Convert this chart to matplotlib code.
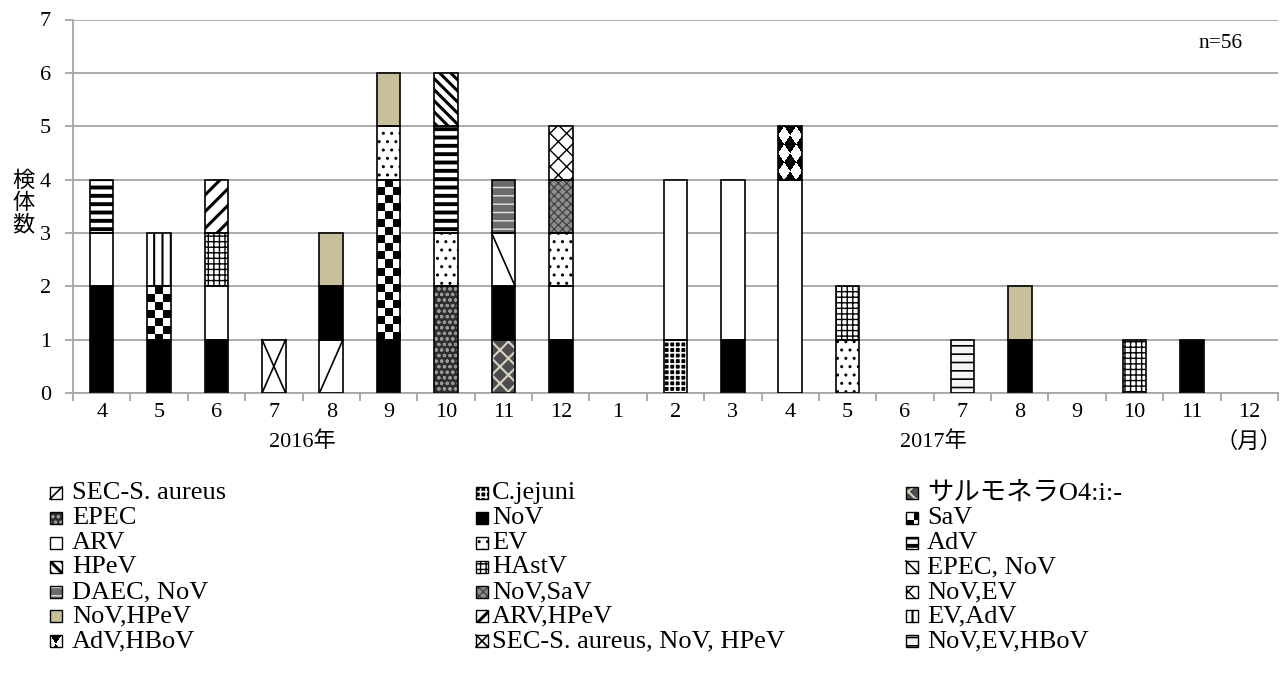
import numpy as np
import matplotlib
matplotlib.use('Agg')
import matplotlib.pyplot as plt
import matplotlib.transforms as mtransforms
from matplotlib.patches import Rectangle

plt.rcParams['font.family'] = ['Liberation Serif', 'Noto Sans CJK JP']
plt.rcParams['hatch.linewidth'] = 1.0

# x categories: 2016/4 .. 2016/12, 2017/1 .. 2017/12
months = ['4', '5', '6', '7', '8', '9', '10', '11', '12',
          '1', '2', '3', '4', '5', '6', '7', '8', '9', '10', '11', '12']

series_names = ['SEC-S. aureus', 'C.jejuni', 'サルモネラO4:i:-',
                'EPEC', 'NoV', 'SaV',
                'ARV', 'EV', 'AdV',
                'HPeV', 'HAstV', 'EPEC, NoV',
                'DAEC, NoV', 'NoV,SaV', 'NoV,EV',
                'NoV,HPeV', 'ARV,HPeV', 'EV,AdV',
                'AdV,HBoV', 'SEC-S. aureus, NoV, HPeV', 'NoV,EV,HBoV']

#                 4  5  6  7  8  9 10 11 12  1  2  3  4  5  6  7  8  9 10 11 12
sec_s_aureus   = [0, 0, 0, 0, 1, 0, 0, 0, 0, 0, 0, 0, 0, 0, 0, 0, 0, 0, 0, 0, 0]
c_jejuni       = [0, 0, 0, 0, 0, 0, 0, 0, 0, 0, 1, 0, 0, 0, 0, 0, 0, 0, 0, 0, 0]
salmonella     = [0, 0, 0, 0, 0, 0, 0, 1, 0, 0, 0, 0, 0, 0, 0, 0, 0, 0, 0, 0, 0]
epec           = [0, 0, 0, 0, 0, 0, 2, 0, 0, 0, 0, 0, 0, 0, 0, 0, 0, 0, 0, 0, 0]
nov            = [2, 1, 1, 0, 1, 1, 0, 1, 1, 0, 0, 1, 0, 0, 0, 0, 1, 0, 0, 1, 0]
sav            = [0, 1, 0, 0, 0, 3, 0, 0, 0, 0, 0, 0, 0, 0, 0, 0, 0, 0, 0, 0, 0]
arv            = [1, 0, 1, 0, 0, 0, 0, 0, 1, 0, 3, 3, 4, 0, 0, 0, 0, 0, 0, 0, 0]
ev             = [0, 0, 0, 0, 0, 1, 1, 0, 1, 0, 0, 0, 0, 1, 0, 0, 0, 0, 0, 0, 0]
adv            = [1, 0, 0, 0, 0, 0, 2, 0, 0, 0, 0, 0, 0, 0, 0, 0, 0, 0, 0, 0, 0]
hpev           = [0, 0, 0, 0, 0, 0, 1, 0, 0, 0, 0, 0, 0, 0, 0, 0, 0, 0, 0, 0, 0]
hastv          = [0, 0, 1, 0, 0, 0, 0, 0, 0, 0, 0, 0, 0, 1, 0, 0, 0, 0, 1, 0, 0]
epec_nov       = [0, 0, 0, 0, 0, 0, 0, 1, 0, 0, 0, 0, 0, 0, 0, 0, 0, 0, 0, 0, 0]
daec_nov       = [0, 0, 0, 0, 0, 0, 0, 1, 0, 0, 0, 0, 0, 0, 0, 0, 0, 0, 0, 0, 0]
nov_sav        = [0, 0, 0, 0, 0, 0, 0, 0, 1, 0, 0, 0, 0, 0, 0, 0, 0, 0, 0, 0, 0]
nov_ev         = [0, 0, 0, 0, 0, 0, 0, 0, 1, 0, 0, 0, 0, 0, 0, 0, 0, 0, 0, 0, 0]
nov_hpev       = [0, 0, 0, 0, 1, 1, 0, 0, 0, 0, 0, 0, 0, 0, 0, 0, 1, 0, 0, 0, 0]
arv_hpev       = [0, 0, 1, 0, 0, 0, 0, 0, 0, 0, 0, 0, 0, 0, 0, 0, 0, 0, 0, 0, 0]
ev_adv         = [0, 1, 0, 0, 0, 0, 0, 0, 0, 0, 0, 0, 0, 0, 0, 0, 0, 0, 0, 0, 0]
adv_hbov       = [0, 0, 0, 0, 0, 0, 0, 0, 0, 0, 0, 0, 1, 0, 0, 0, 0, 0, 0, 0, 0]
sec_nov_hpev   = [0, 0, 0, 1, 0, 0, 0, 0, 0, 0, 0, 0, 0, 0, 0, 0, 0, 0, 0, 0, 0]
nov_ev_hbov    = [0, 0, 0, 0, 0, 0, 0, 0, 0, 0, 0, 0, 0, 0, 0, 1, 0, 0, 0, 0, 0]

counts = [sec_s_aureus, c_jejuni, salmonella, epec, nov, sav, arv, ev, adv,
          hpev, hastv, epec_nov, daec_nov, nov_sav, nov_ev, nov_hpev,
          arv_hpev, ev_adv, adv_hbov, sec_nov_hpev, nov_ev_hbov]

# fill styles (face, hatch, hatch colour, hatch width, texture, corner lines)
def sty(face='white', hatch=None, hc='black', hlw=1.0, tex=None, diag=None):
    return dict(face=face, hatch=hatch, hc=hc, hlw=hlw, tex=tex, diag=diag)

styles = [sty(diag='/'),
          sty('black', '+++', 'white', 1.2),
          sty('#4d4d4d', 'xx', '#d8d3c0', 1.5),
          sty('#2e2e2e', 'ooo', '#9a9a9a', 0.8),
          sty('black'),
          sty(tex='checker'),
          sty(),
          sty(hatch='..', hlw=1.0),
          sty(hatch='--', hlw=2.8),
          sty(hatch='\\\\\\', hlw=2.2),
          sty(hatch='+++', hlw=1.0),
          sty(diag='\\'),
          sty('#6b6b6b', '--', '#e6e6e6', 1.0),
          sty('#8c8c8c', 'xxxx', '#3a3a3a', 0.8),
          sty(hatch='xx', hlw=1.0),
          sty('#c7c09b'),
          sty(hatch='//', hlw=2.2),
          sty(hatch='||', hlw=1.5),
          sty(tex='diamond'),
          sty(diag='x'),
          sty('#f5f5f5', '--', 'black', 1.2)]

W, H = 1287, 688
fig = plt.figure(figsize=(W / 100, H / 100), dpi=100)
ax = fig.add_axes([73 / W, 1 - 393 / H, (1278 - 73) / W, (393 - 19.5) / H])
ax.set_xlim(-0.5, len(months) - 0.5)
ax.set_ylim(0, 7)


def set_hlw(p, lw):
    if hasattr(p, 'set_hatch_linewidth'):
        p.set_hatch_linewidth(lw)


def texture(kind, wpx, hpx):
    ny, nx = max(int(round(hpx * 2)), 1), max(int(round(wpx * 2)), 1)
    yy, xx = np.mgrid[0:ny, 0:nx] / 2.0 + 0.25
    if kind == 'checker':
        return ((xx // 8 + yy // 8) % 2).astype(float)
    xs = xx - wpx / 2 + 6
    u = np.floor(xs / 12 + yy / 18)
    v = np.floor(xs / 12 - yy / 18)
    return ((u + v + 1) % 2).astype(float)


def decorate(a, x0, y0, w, h, st, wpx, hpx):
    if st['tex']:
        a.imshow(texture(st['tex'], wpx, hpx), cmap='gray_r', vmin=0, vmax=1,
                 extent=(x0, x0 + w, y0, y0 + h), aspect='auto',
                 interpolation='nearest', zorder=3)
    if st['diag'] in ('/', 'x'):
        a.plot([x0, x0 + w], [y0, y0 + h], color='black', lw=1.2, zorder=3)
    if st['diag'] in ('\\', 'x'):
        a.plot([x0, x0 + w], [y0 + h, y0], color='black', lw=1.2, zorder=3)


p0 = ax.transData.transform((0, 0))
p1 = ax.transData.transform((1, 1))
px_x, px_y = p1[0] - p0[0], p1[1] - p0[1]

x = np.arange(len(months))
bar_w = 0.41
bottom = np.zeros(len(months))
for vals, st in zip(counts, styles):
    vals = np.array(vals, dtype=float)
    m = vals > 0
    if m.any():
        bars = ax.bar(x[m], vals[m], bar_w, bottom=bottom[m], color=st['face'],
                      edgecolor=st['hc'], hatch=st['hatch'], linewidth=0, zorder=2)
        for p in bars:
            set_hlw(p, st['hlw'])
            decorate(ax, p.get_x(), p.get_y(), p.get_width(), p.get_height(), st,
                     p.get_width() * px_x, p.get_height() * px_y)
        ax.bar(x[m], vals[m], bar_w, bottom=bottom[m], fill=False,
               edgecolor='black', linewidth=1.2, zorder=4)
    bottom += vals

ax.set_xlim(-0.5, len(months) - 0.5)
ax.set_ylim(0, 7)

# axes styling
grid_c = '#a6a6a6'
ax.set_yticks(range(8))
ax.grid(axis='y', color=grid_c, lw=1.3, zorder=0)
ax.set_axisbelow(True)
for s in ['top', 'right']:
    ax.spines[s].set_visible(False)
ax.spines['left'].set_color(grid_c)
ax.spines['bottom'].set_color(grid_c)
ax.spines['left'].set_linewidth(1.3)
ax.spines['bottom'].set_linewidth(1.3)
ax.set_xticks(x)
ax.set_xticklabels(months)
ax.set_xticks(np.arange(-0.5, len(months)), minor=True)
ax.tick_params(axis='x', which='major', length=0, pad=7.5, labelsize=16)
ax.tick_params(axis='x', which='minor', length=6, color=grid_c, width=1.3)
ax.tick_params(axis='y', length=6, color=grid_c, width=1.3, pad=10, labelsize=16)

blend = mtransforms.blended_transform_factory(ax.transData, fig.transFigure)
yr_y = 1 - 442 / H
ax.text(3.5, yr_y, '2016年', transform=blend, ha='center', va='center', fontsize=16)
ax.text(14.5, yr_y, '2017年', transform=blend, ha='center', va='center', fontsize=16)
ax.text(20, yr_y, '（月）', transform=blend, ha='center', va='center', fontsize=16)

fig.text(23 / W, 1 - 204 / H, '検\n体\n数', ha='center', va='center',
         fontsize=16, linespacing=1.12)
fig.text(1221 / W, 1 - 43 / H, 'n=56', ha='center', va='center', fontsize=15.5)

# legend, 3 columns, row-major like the original
lax = fig.add_axes([0, 0, 1, 1])
lax.set_xlim(0, W)
lax.set_ylim(0, H)
lax.axis('off')
icon_x = [50, 476, 906]
text_x = [72, 492, 927]
row_y = [493, 518, 543, 567, 592, 616, 641]
box = 12
for i, (name, st) in enumerate(zip(series_names, styles)):
    bx = icon_x[i % 3]
    cy = H - row_y[i // 3]
    by = cy - box / 2
    r = Rectangle((bx, by), box, box, facecolor=st['face'], edgecolor=st['hc'],
                  hatch=st['hatch'], linewidth=0, zorder=2)
    set_hlw(r, st['hlw'])
    lax.add_patch(r)
    decorate(lax, bx, by, box, box, st, box, box)
    lax.add_patch(Rectangle((bx, by), box, box, fill=False, edgecolor='black',
                            linewidth=1.0, zorder=4))
    lax.text(text_x[i % 3], cy, name, ha='left', va='center', fontsize=19)
lax.set_xlim(0, W)
lax.set_ylim(0, H)

fig.savefig('out.png', dpi=100)
